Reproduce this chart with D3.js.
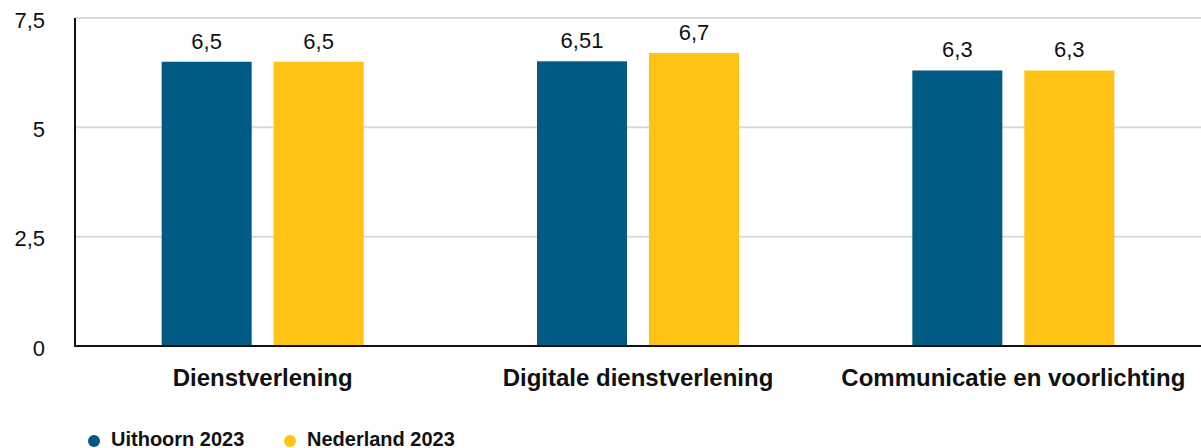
<!DOCTYPE html>
<html>
<head>
<meta charset="utf-8">
<script src="https://cdn.jsdelivr.net/npm/d3@7"></script>
<style>
  body { margin: 0; background: #fff; }
  svg { display: block; font-family: "Liberation Sans", Arial, sans-serif; }
</style>
</head>
<body>
<svg id="chart" width="1201" height="448"></svg>
<script>
// data
var categories = ["Dienstverlening", "Digitale dienstverlening", "Communicatie en voorlichting"];
var series = ["Uithoorn 2023", "Nederland 2023"];
var uithoorn = [6.5, 6.51, 6.3];
var nederland = [6.5, 6.7, 6.3];
var valueLabels = [["6,5", "6,5"], ["6,51", "6,7"], ["6,3", "6,3"]];
var yTicks = [0, 2.5, 5, 7.5];
var yTickLabels = ["0", "2,5", "5", "7,5"];
var colors = ["#005a84", "#fec314"];

var svg = d3.select("#chart");
// note: "top" is a reserved window property, so use plotTop etc.
var plotLeft = 75, plotRight = 1201, plotTop = 18, plotBottom = 346;

var x = d3.scaleBand().domain(categories).range([plotLeft, plotRight]).padding(0);
var xSub = d3.scaleBand().domain(series).range([0, 202]).paddingInner(0.1964);
var y = d3.scaleLinear().domain([0, 7.5]).range([plotBottom, plotTop]);

var rows = categories.map(function (c, i) {
  return { cat: c, vals: [uithoorn[i], nederland[i]], labels: valueLabels[i] };
});

// gridlines
svg.append("g")
  .selectAll("line")
  .data(yTicks.filter(function (t) { return t > 0; }))
  .join("line")
  .attr("x1", plotLeft).attr("x2", plotRight)
  .attr("y1", function (d) { return y(d); })
  .attr("y2", function (d) { return y(d); })
  .attr("stroke", "#dadada")
  .attr("stroke-width", 2);

// y tick labels
svg.append("g")
  .selectAll("text")
  .data(yTicks)
  .join("text")
  .attr("x", 45)
  .attr("y", function (d) { return y(d) + 2; })
  .attr("text-anchor", "end")
  .attr("dominant-baseline", "central")
  .attr("font-size", 22)
  .attr("fill", "#111")
  .text(function (d, i) { return yTickLabels[i]; });

// bars
var groups = svg.append("g")
  .selectAll("g")
  .data(rows)
  .join("g")
  .attr("transform", function (d) {
    return "translate(" + (x(d.cat) + x.bandwidth() / 2 - 101) + ",0)";
  });

groups.selectAll("rect")
  .data(function (d) { return d.vals.map(function (v, i) { return { s: series[i], v: v, i: i }; }); })
  .join("rect")
  .attr("x", function (d) { return xSub(d.s); })
  .attr("y", function (d) { return y(d.v); })
  .attr("width", xSub.bandwidth())
  .attr("height", function (d) { return plotBottom - y(d.v); })
  .attr("fill", function (d) { return colors[d.i]; });

groups.selectAll("text")
  .data(function (d) { return d.vals.map(function (v, i) { return { s: series[i], v: v, t: d.labels[i] }; }); })
  .join("text")
  .attr("x", function (d) { return xSub(d.s) + xSub.bandwidth() / 2; })
  .attr("y", function (d) { return y(d.v) - 13; })
  .attr("text-anchor", "middle")
  .attr("font-size", 22)
  .attr("fill", "#111")
  .text(function (d) { return d.t; });

// axis lines
svg.append("line")
  .attr("x1", plotLeft).attr("x2", plotLeft)
  .attr("y1", plotTop).attr("y2", plotBottom + 1)
  .attr("stroke", "#111").attr("stroke-width", 2);
svg.append("line")
  .attr("x1", plotLeft - 1).attr("x2", plotRight)
  .attr("y1", plotBottom).attr("y2", plotBottom)
  .attr("stroke", "#111").attr("stroke-width", 2);

// category labels
svg.append("g")
  .selectAll("text")
  .data(categories)
  .join("text")
  .attr("x", function (d) { return x(d) + x.bandwidth() / 2; })
  .attr("y", 386)
  .attr("text-anchor", "middle")
  .attr("font-size", 24)
  .attr("font-weight", "bold")
  .attr("fill", "#111")
  .text(function (d) { return d; });

// legend
var legendX = [94, 290];
var legend = svg.append("g")
  .selectAll("g")
  .data(series)
  .join("g")
  .attr("transform", function (d, i) { return "translate(" + legendX[i] + ",441)"; });
legend.append("circle")
  .attr("r", 6)
  .attr("fill", function (d, i) { return colors[i]; });
legend.append("text")
  .attr("x", 17)
  .attr("y", 5)
  .attr("font-size", 20)
  .attr("font-weight", "bold")
  .attr("fill", "#111")
  .text(function (d) { return d; });
</script>
</body>
</html>
